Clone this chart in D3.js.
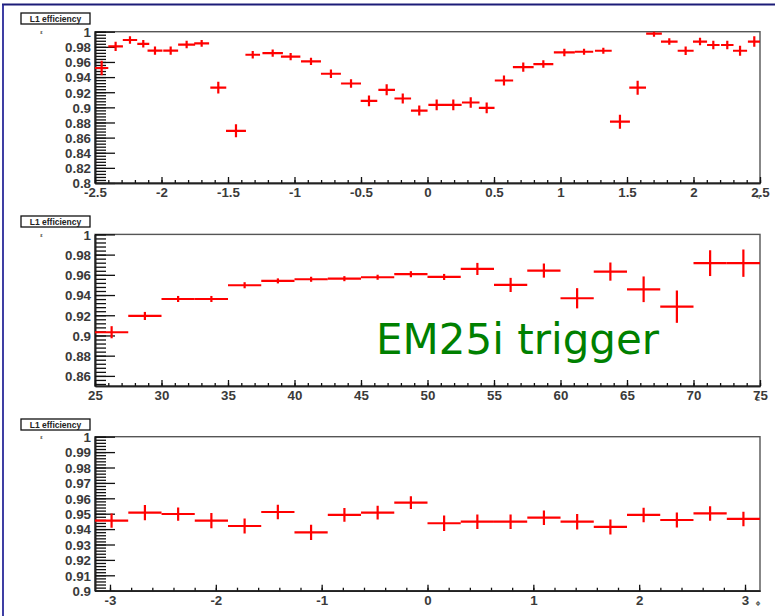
<!DOCTYPE html>
<html><head><meta charset="utf-8">
<script src="https://cdn.jsdelivr.net/npm/d3@7/dist/d3.min.js"></script>
<style>body{margin:0;background:#fff}</style>
</head><body>
<svg id="c" width="775" height="616"></svg>
<script>
// ---- Panel 1: efficiency vs eta ----
const etaCenter = [-2.45,-2.345,-2.237,-2.137,-2.049,-1.931,-1.811,-1.698,-1.573,-1.44,
  -1.314,-1.164,-1.029,-0.876,-0.726,-0.575,-0.44,-0.307,-0.186,-0.062,
  0.069,0.194,0.325,0.445,0.575,0.72,0.871,1.029,1.177,1.322,
  1.447,1.58,1.703,1.818,1.941,2.049,2.149,2.254,2.35,2.457];
const etaHalfWidth = [0.05,0.055,0.054,0.045,0.056,0.056,0.064,0.056,0.06,0.075,
  0.055,0.077,0.073,0.075,0.075,0.075,0.0625,0.0625,0.0625,0.0625,
  0.0625,0.0625,0.066,0.059,0.069,0.078,0.075,0.079,0.069,0.063,
  0.075,0.063,0.059,0.0625,0.06,0.053,0.047,0.047,0.053,0.048];
const etaEff = [0.952,0.9806,0.989,0.984,0.975,0.975,0.983,0.9845,0.926,0.869,
  0.9695,0.9718,0.967,0.9607,0.9444,0.9315,0.9086,0.9232,0.9117,0.8958,
  0.9033,0.9033,0.9064,0.8993,0.9355,0.9532,0.9572,0.9726,0.9735,0.9748,
  0.881,0.926,0.9974,0.987,0.9748,0.987,0.9824,0.9824,0.9748,0.987];
const etaErr = [0.0095,0.006,0.005,0.005,0.0055,0.0055,0.005,0.0045,0.0078,0.0086,
  0.005,0.0048,0.0048,0.0048,0.0055,0.0055,0.007,0.0073,0.0066,0.0066,
  0.007,0.007,0.007,0.007,0.0066,0.006,0.005,0.005,0.004,0.004,
  0.0093,0.0093,0.004,0.0044,0.0055,0.005,0.0055,0.0055,0.0066,0.007];
const etaTicks = [-2.5,-2,-1.5,-1,-0.5,0,0.5,1,1.5,2,2.5];
const effTicksTop = [0.8,0.82,0.84,0.86,0.88,0.9,0.92,0.94,0.96,0.98,1];

// ---- Panel 2: efficiency vs ET ----
const etCenter = [26.25,28.75,31.25,33.75,36.25,38.75,41.25,43.75,46.25,48.75,
  51.25,53.75,56.25,58.75,61.25,63.75,66.25,68.75,71.25,73.75];
const etHalfWidth = [1.25,1.25,1.25,1.25,1.25,1.25,1.25,1.25,1.25,1.25,
  1.25,1.25,1.25,1.25,1.25,1.25,1.25,1.25,1.25,1.25];
const etEff = [0.9032,0.9193,0.9361,0.9361,0.9497,0.954,0.9556,0.9562,0.9576,0.9606,
  0.9579,0.9658,0.950,0.9642,0.9368,0.9632,0.9457,0.9285,0.9715,0.9715];
const etErr = [0.006,0.004,0.003,0.003,0.003,0.0025,0.0025,0.0025,0.0025,0.003,
  0.003,0.006,0.007,0.007,0.01,0.009,0.0127,0.016,0.0127,0.0135];
const etTicks = [25,30,35,40,45,50,55,60,65,70,75];
const effTicksMid = [0.86,0.88,0.9,0.92,0.94,0.96,0.98,1];

// ---- Panel 3: efficiency vs phi ----
const phiCenter = [-2.985,-2.670,-2.356,-2.042,-1.728,-1.414,-1.100,-0.785,-0.471,-0.157,
  0.157,0.471,0.785,1.100,1.414,1.728,2.042,2.356,2.670,2.985];
const phiHalfWidth = [0.157,0.157,0.157,0.157,0.157,0.157,0.157,0.157,0.157,0.157,
  0.157,0.157,0.157,0.157,0.157,0.157,0.157,0.157,0.157,0.157];
const phiEff = [0.9455,0.9507,0.9498,0.9455,0.942,0.9511,0.9379,0.9492,0.9507,0.9572,
  0.9438,0.9448,0.9448,0.9474,0.9448,0.9414,0.9492,0.9459,0.9502,0.9466];
const phiErr = [0.0047,0.0049,0.0043,0.0049,0.0049,0.0047,0.0049,0.0045,0.0045,0.0041,
  0.005,0.0047,0.0047,0.0047,0.005,0.0049,0.0047,0.0049,0.0047,0.0047];
const phiTicks = [-3,-2,-1,0,1,2,3];
const effTicksBot = [0.9,0.91,0.92,0.93,0.94,0.95,0.96,0.97,0.98,0.99,1];

const yTitle = "L1 efficiency";
const overlayText = "EM25i trigger";

const W = 775, H = 616;
const svg = d3.select("#c");
svg.append("rect").attr("width", W).attr("height", H).attr("fill", "#fff");

const panels = [
  {top:31.7, bottom:183, x0:95, x1:760, xDomain:[-2.5,2.5], yDomain:[0.8,1],
   xMajor:etaTicks, xMinorStep:0.1, yMajor:effTicksTop, yMinorStep:0.004,
   c:etaCenter, hw:etaHalfWidth, v:etaEff, e:etaErr, boxTop:13, xTitle:"η"},
  {top:234.4, bottom:386, x0:95, x1:760, xDomain:[25,75], yDomain:[0.85,1],
   xMajor:etTicks, xMinorStep:1, yMajor:effTicksMid, yMinorStep:0.004,
   c:etCenter, hw:etHalfWidth, v:etEff, e:etErr, boxTop:216, xTitle:"E"},
  {top:436.7, bottom:590.7, x0:95, x1:760, xDomain:[-Math.PI,Math.PI], yDomain:[0.9,1],
   xMajor:phiTicks, xMinorStep:0.2, yMajor:effTicksBot, yMinorStep:0.002,
   c:phiCenter, hw:phiHalfWidth, v:phiEff, e:phiErr, boxTop:419, xTitle:"ϕ"}
];

function stepTicks(domain, step){
  const lo = Math.ceil(domain[0]/step - 1e-6), hi = Math.floor(domain[1]/step + 1e-6);
  return d3.range(lo, hi+1).map(i => +(i*step).toFixed(6));
}
const fmt = d => String(+d.toFixed(4));
const labelFont = "'Liberation Sans', Arial, Helvetica, sans-serif";

panels.forEach((p, i) => {
  const x = d3.scaleLinear().domain(p.xDomain).range([p.x0, p.x1]);
  const y = d3.scaleLinear().domain(p.yDomain).range([p.bottom, p.top]);
  const g = svg.append("g");

  g.append("rect").attr("x", p.x0).attr("y", p.top).attr("width", p.x1-p.x0).attr("height", p.bottom-p.top)
    .attr("fill", "none").attr("stroke", "#555").attr("stroke-width", 1.4);

  const yMinor = g.append("g").attr("transform", `translate(${p.x0},0)`)
    .call(d3.axisLeft(y).tickValues(stepTicks(p.yDomain, p.yMinorStep)).tickSizeInner(-11).tickSizeOuter(0).tickFormat(""));
  const yMaj = g.append("g").attr("transform", `translate(${p.x0},0)`)
    .call(d3.axisLeft(y).tickValues(p.yMajor).tickSizeInner(-20).tickSizeOuter(0).tickPadding(4).tickFormat(fmt));
  const xMinor = g.append("g").attr("transform", `translate(0,${p.bottom})`)
    .call(d3.axisBottom(x).tickValues(stepTicks(p.xDomain, p.xMinorStep)).tickSizeInner(-3).tickSizeOuter(0).tickFormat(""));
  const xMaj = g.append("g").attr("transform", `translate(0,${p.bottom})`)
    .call(d3.axisBottom(x).tickValues(p.xMajor).tickSizeInner(-6).tickSizeOuter(0).tickPadding(4.5).tickFormat(fmt));

  [yMinor, yMaj, xMinor, xMaj].forEach(a => {
    a.selectAll("line").attr("stroke", "#111").attr("stroke-width", 1.3);
    a.select(".domain").attr("stroke", "#222").attr("stroke-width", 1.6);
    a.selectAll("text").attr("font-family", labelFont).attr("font-weight", "bold")
      .attr("font-size", 13.3).attr("fill", "#3a3a3a");
  });
  yMaj.selectAll("text").attr("dy", "0.36em");

  g.append("text").attr("x", 758).attr("y", p.bottom + (i===2 ? 14 : 15))
    .attr("font-family", labelFont).attr("font-size", 6).attr("font-weight", "bold")
    .attr("fill", "#333").attr("text-anchor", "middle").text(p.xTitle);

  g.append("rect").attr("x", 21).attr("y", p.boxTop).attr("width", 69).attr("height", 11)
    .attr("fill", "#fff").attr("stroke", "#111").attr("stroke-width", 1.3);
  g.append("text").attr("x", 55.5).attr("y", p.boxTop + 8.6).attr("text-anchor", "middle")
    .attr("font-family", labelFont).attr("font-size", 8.5).attr("font-weight", "bold")
    .attr("fill", "#222").text(yTitle);
  g.append("text").attr("x", 41.5).attr("y", p.top + 2.5).attr("text-anchor", "middle")
    .attr("font-family", labelFont).attr("font-size", 5).attr("font-weight", "bold")
    .attr("fill", "#333").text("ε");

  const clipId = "clip" + i;
  svg.append("clipPath").attr("id", clipId).append("rect")
    .attr("x", p.x0).attr("y", p.top).attr("width", p.x1-p.x0).attr("height", p.bottom-p.top);
  const dg = g.append("g").attr("clip-path", `url(#${clipId})`);
  const pts = p.c.map((c, k) => ({c, hw:p.hw[k], v:p.v[k], e:p.e[k]}));
  dg.selectAll("line.h").data(pts).join("line").attr("class","h")
    .attr("x1", d => x(d.c - d.hw)).attr("x2", d => x(d.c + d.hw))
    .attr("y1", d => y(d.v)).attr("y2", d => y(d.v))
    .attr("stroke", "#ff0000").attr("stroke-width", 2.2);
  dg.selectAll("line.v").data(pts).join("line").attr("class","v")
    .attr("x1", d => x(d.c)).attr("x2", d => x(d.c))
    .attr("y1", d => y(d.v - d.e)).attr("y2", d => y(d.v + d.e))
    .attr("stroke", "#ff0000").attr("stroke-width", 2.2);
});

svg.append("text").attr("x", 376).attr("y", 353.5)
  .attr("font-family", "'DejaVu Sans', Verdana, sans-serif").attr("font-size", 42)
  .attr("fill", "#008000").text(overlayText);

svg.append("line").attr("x1", 2).attr("x2", W).attr("y1", 4.5).attr("y2", 4.5)
  .attr("stroke", "#1c1c78").attr("stroke-width", 1.8);
svg.append("line").attr("x1", 3).attr("x2", 3).attr("y1", 4.5).attr("y2", H)
  .attr("stroke", "#2a2a9a").attr("stroke-width", 1.8);
</script>
</body></html>
